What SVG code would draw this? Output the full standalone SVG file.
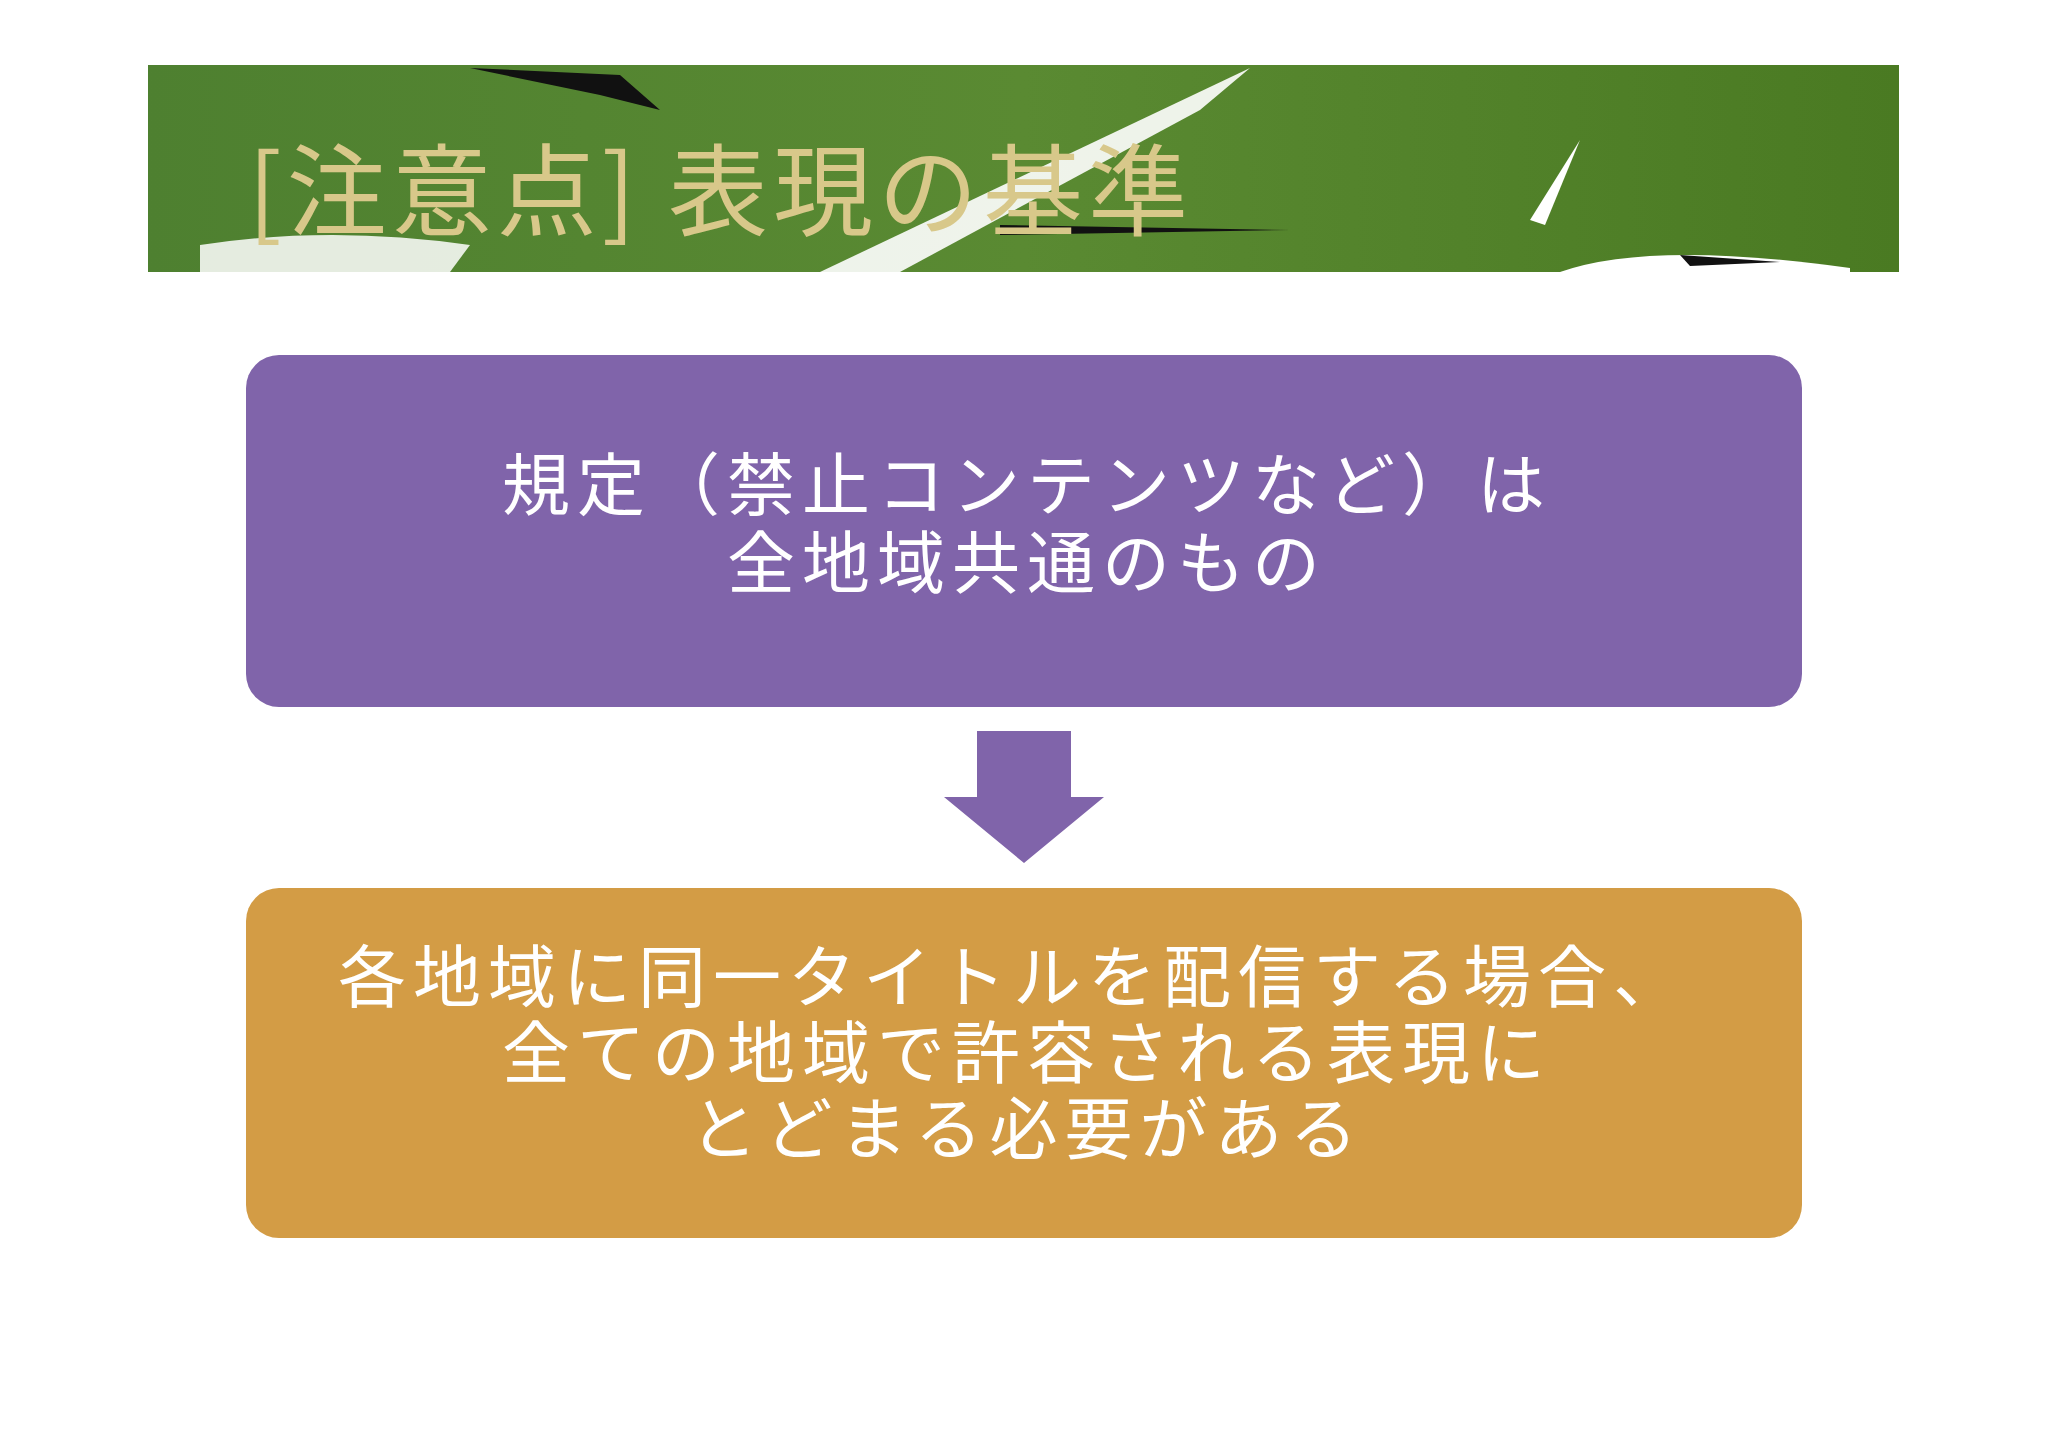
<svg xmlns="http://www.w3.org/2000/svg" width="2048" height="1448" viewBox="0 0 2048 1448">
<style>
.t{font-family:"Noto Sans CJK JP","Noto Sans CJK SC",sans-serif;fill:#fff;font-size:68px;letter-spacing:7px;text-anchor:middle}
</style>
<defs>
<linearGradient id="g" x1="0" y1="0" x2="1" y2="0">
<stop offset="0" stop-color="#4e8030"/><stop offset="0.5" stop-color="#5a8a32"/><stop offset="1" stop-color="#4a7a22"/>
</linearGradient>
</defs>
<rect width="2048" height="1448" fill="#fff"/>
<g id="header">
<rect x="148" y="65" width="1751" height="207" fill="url(#g)"/>
<path d="M470 68 L620 75 L660 110 L600 95 Z" fill="#111"/>
<path d="M820 272 L1250 68 L1200 110 L900 272 Z" fill="#fff" opacity="0.9"/>
<path d="M1000 225 L1290 230 L1000 235 Z" fill="#111"/>
<path d="M1530 220 L1580 140 L1545 225 Z" fill="#fff"/>
<path d="M1560 272 Q1650 240 1850 268 L1850 272 Z" fill="#fff"/>
<path d="M1680 255 L1780 262 L1690 266 Z" fill="#111"/>
<path d="M200 245 Q330 225 470 245 L450 272 L200 272 Z" fill="#fff" opacity="0.85"/>
<text x="248" y="228" font-family="Noto Sans CJK JP,sans-serif" font-size="100" letter-spacing="5" fill="#d8c88a">[注意点] 表現の基準</text>
</g>
<g id="box1">
<rect x="246" y="355" width="1556" height="352" rx="33" fill="#8064aa"/>
<text class="t" x="1027" y="510">規定（禁止コンテンツなど）は</text>
<text class="t" x="1027" y="588">全地域共通のもの</text>
</g>
<g id="connectors">
<path d="M977 731 H1071 V797 H1104 L1024 863 L944 797 H977 Z" fill="#8064aa"/>
</g>
<g id="box2">
<rect x="246" y="888" width="1556" height="350" rx="33" fill="#d39c45"/>
<text class="t" x="1013" y="1002">各地域に同一タイトルを配信する場合、</text>
<text class="t" x="1027" y="1078">全ての地域で許容される表現に</text>
<text class="t" x="1027" y="1154">とどまる必要がある</text>
</g>
</svg>
